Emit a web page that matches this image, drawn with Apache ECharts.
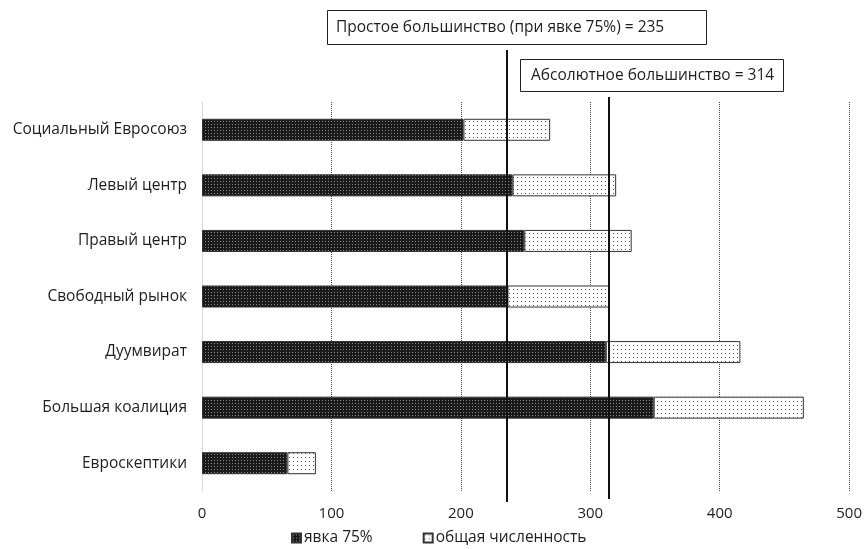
<!DOCTYPE html>
<html>
<head>
<meta charset="utf-8">
<script src="https://cdn.jsdelivr.net/npm/echarts@6/dist/echarts.min.js"></script>
<style>
html,body{margin:0;padding:0;background:#fff;}
#chart{width:865px;height:549px;}
</style>
</head>
<body>
<div id="chart"></div>
<script>
// ---- data ----
const categories = ['Социальный Евросоюз', 'Левый центр', 'Правый центр', 'Свободный рынок', 'Дуумвират', 'Большая коалиция', 'Евроскептики'];
const turnoutValues = [202, 240, 249, 236, 312, 349, 66];      // явка 75%
const remainderValues = [67, 80, 83, 79, 104, 116, 22];        // общая численность (остаток)
const seriesNames = ['явка 75%', 'общая численность'];
const simpleMajority = 235;
const absoluteMajority = 314;
const simpleLabel = 'Простое большинство (при явке 75%) = 235';
const absoluteLabel = 'Абсолютное большинство = 314';
const xTicks = [0, 100, 200, 300, 400, 500];

const FONT = '"Open Sans", "Noto Sans", sans-serif';
const FS = 15.5;
const TXT = '#1e1e1e';

function makePattern(bg, dot, size, dots) {
  const c = document.createElement('canvas');
  c.width = size; c.height = size;
  const g = c.getContext('2d');
  g.fillStyle = bg; g.fillRect(0, 0, size, size);
  g.fillStyle = dot;
  dots.forEach(p => g.fillRect(p[0], p[1], 1, 1));
  return c;
}
const darkPat = makePattern('#1a1a1a', '#8a8a8a', 3, [[1, 1]]);
const lightPat = makePattern('#ffffff', '#555555', 4, [[1, 1]]);

const chart = echarts.init(document.getElementById('chart'), null, {renderer: 'canvas'});

const gridLeft = 202, gridRight = 15;

const option = {
  animation: false,
  textStyle: {fontFamily: FONT, color: TXT},
  grid: [
    {left: gridLeft, right: gridRight, top: 102, bottom: 58, containLabel: false},
    {left: gridLeft, right: gridRight, top: 50, bottom: 47, containLabel: false},
    {left: gridLeft, right: gridRight, top: 97, bottom: 50, containLabel: false}
  ],
  legend: {
    data: seriesNames,
    top: 530,
    left: 291,
    padding: 0,
    itemWidth: 9,
    itemHeight: 9,
    itemGap: 50,
    icon: 'rect',
    textStyle: {fontFamily: FONT, fontSize: FS, color: TXT, padding: [0, 0, 0, -2]}
  },
  xAxis: [
    {
      type: 'value', gridIndex: 0, min: 0, max: 500, interval: 100,
      axisLine: {show: false}, axisTick: {show: false},
      axisLabel: {fontFamily: FONT, fontSize: 15, color: TXT, margin: 15,
        formatter: v => xTicks.includes(v) ? String(v) : ''},
      splitLine: {show: true, lineStyle: {type: [1, 1], color: '#444', width: 1}}
    },
    {type: 'value', gridIndex: 1, min: 0, max: 500, show: false},
    {type: 'value', gridIndex: 2, min: 0, max: 500, show: false}
  ],
  yAxis: [
    {
      type: 'category', gridIndex: 0, data: categories, inverse: true,
      axisLine: {show: true, lineStyle: {color: '#d9d9d9', width: 1}},
      axisTick: {show: false},
      axisLabel: {fontFamily: FONT, fontSize: FS, color: TXT, margin: 15},
      splitLine: {show: false}
    },
    {type: 'value', gridIndex: 1, min: 0, max: 1, show: false},
    {type: 'value', gridIndex: 2, min: 0, max: 1, show: false}
  ],
  series: [
    {
      name: seriesNames[0], type: 'bar', stack: 'total', barWidth: 22,
      xAxisIndex: 0, yAxisIndex: 0,
      data: turnoutValues,
      itemStyle: {color: {image: darkPat, repeat: 'repeat'}, borderColor: '#333', borderWidth: 1}
    },
    {
      name: seriesNames[1], type: 'bar', stack: 'total', barWidth: 22,
      xAxisIndex: 0, yAxisIndex: 0,
      data: remainderValues,
      itemStyle: {color: {image: lightPat, repeat: 'repeat'}, borderColor: '#333', borderWidth: 1}
    },
    {
      type: 'line', xAxisIndex: 1, yAxisIndex: 1, data: [], silent: true,
      markLine: {
        silent: true, symbol: 'none', label: {show: false},
        lineStyle: {color: '#111', width: 2, type: 'solid'},
        data: [[{coord: [simpleMajority, 0]}, {coord: [simpleMajority, 1]}]]
      }
    },
    {
      type: 'line', xAxisIndex: 2, yAxisIndex: 2, data: [], silent: true,
      markLine: {
        silent: true, symbol: 'none', label: {show: false},
        lineStyle: {color: '#111', width: 2, type: 'solid'},
        data: [[{coord: [absoluteMajority, 0]}, {coord: [absoluteMajority, 1]}]]
      }
    }
  ],
  graphic: [
    {
      type: 'rect', left: 327, top: 10, z: 10,
      shape: {width: 379, height: 34},
      style: {fill: '#fff', stroke: '#222', lineWidth: 1}
    },
    {
      type: 'text', left: 336, top: 20, z: 11,
      style: {text: simpleLabel, font: FS + 'px ' + FONT, fill: TXT}
    },
    {
      type: 'rect', left: 520, top: 59, z: 10,
      shape: {width: 263, height: 32},
      style: {fill: '#fff', stroke: '#222', lineWidth: 1}
    },
    {
      type: 'text', left: 531, top: 68, z: 11,
      style: {text: absoluteLabel, font: FS + 'px ' + FONT, fill: TXT}
    }
  ]
};
chart.setOption(option);
</script>
</body>
</html>
